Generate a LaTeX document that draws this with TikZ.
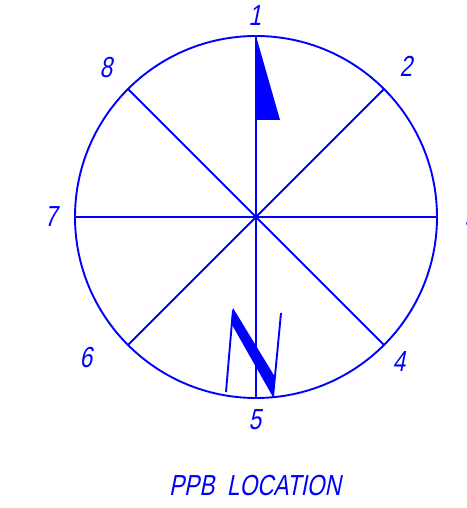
\documentclass[tikz,border=0pt]{standalone}
\usepackage{fontspec}
\newfontfamily\cadfont[FakeSlant=0.2, FakeStretch=0.78]{Liberation Sans}
\definecolor{cadblue}{RGB}{0,0,255}
\usetikzlibrary{positioning, calc}
\tikzset{
  ln/.style={draw=cadblue, line width=1.9pt},
  lbl/.style={text=cadblue, font=\cadfont\fontsize{29}{29}\selectfont, inner sep=0pt},
}

\begin{document}
\begin{tikzpicture}[x=1pt, y=1pt]
    \useasboundingbox (-256,-291) rectangle (210,217);

    % ── DIAL ────────────────────────────────────────────────
    \coordinate (hub) at (0,0);
    \node[circle, ln, outer sep=0pt, minimum size=362pt, inner sep=0pt] (dial) at (hub) {};
    \foreach \ang in {0,45,...,315}
      \draw[ln] (hub) -- (dial.\ang);

    % ── LABELS ──────────────────────────────────────────────
    \node[lbl] (n1) at (-1,201) {1};
    \node[lbl] (n2) at (150,151) {2};
    \node[lbl] (n3) at (215,-1) {3};
    \node[lbl] (n4) at (143,-145) {4};
    \node[lbl] (n5) at (-1,-203) {5};
    \node[lbl] (n6) at (-170,-141) {6};
    \node[lbl] (n7) at (-205,0) {7};
    \node[lbl] (n8) at (-150,149) {8};
    \node[lbl] (title) at (-1,-269) {PPB\ \ LOCATION};

    % ── FLAG ────────────────────────────────────────────────
    \fill[cadblue] (dial.north) -- (24,97) -- (0,97) -- cycle;

    % ── N ───────────────────────────────────────────────────
    \fill[cadblue] (-23,-91) -- (-25,-106) -- (17,-180) -- (19,-160) -- cycle;
    \draw[ln] (-30,-175) -- (-23,-93);
    \draw[ln] (17,-180) -- (25,-96);
\end{tikzpicture}
\end{document}
